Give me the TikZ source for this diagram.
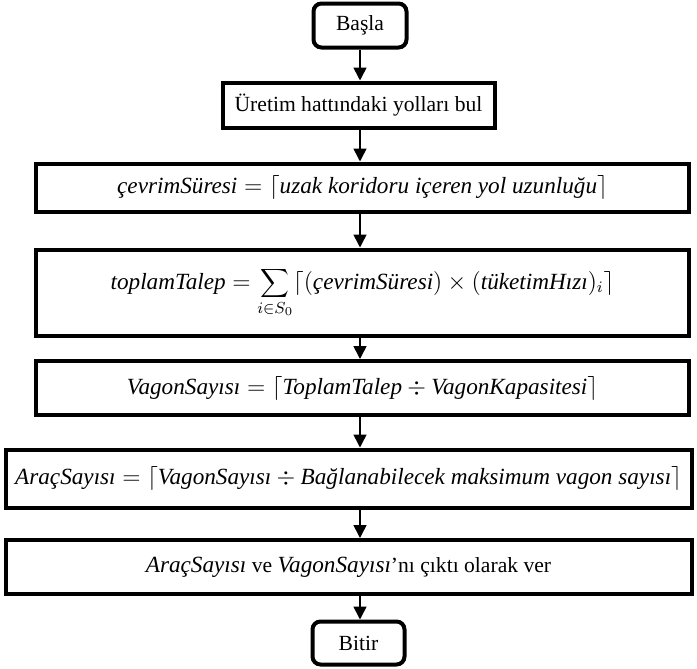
\documentclass[tikz,border=0pt]{standalone}
\usepackage{fontspec}
\setmainfont{Liberation Serif}
\usetikzlibrary{arrows.meta}

\newcommand{\vr}[1]{\mbox{\fontsize{11.6}{14}\selectfont\itshape #1}}

\begin{document}
\begin{tikzpicture}[x=0.5pt,y=-0.5pt,
	box/.style={draw,line width=2pt,inner sep=0pt,align=center,font=\fontsize{10.8}{13}\selectfont},
	mbox/.style={box,font=\fontsize{11.6}{14}\selectfont},
	term/.style={box,rounded corners=4pt},
	arr/.style={line width=0.8pt,-{Triangle[width=6.5pt,length=6.5pt]}}]
		\useasboundingbox (0,0) rectangle (697,669);
		% boxes
		\node[term,minimum width=46.5pt,minimum height=22pt] (basla) at (360,25.5) {Başla};
		\node[box,minimum width=136pt,minimum height=22.5pt] (uretim) at (358.5,105) {Üretim hattındaki yolları bul};
		\node[mbox,minimum width=326.5pt,minimum height=24pt] (cevrim) at (362.5,187.5) {$\vr{çevrimSüresi} = \lceil\vr{uzak koridoru içeren yol uzunluğu}\rceil$};
		\node[mbox,minimum width=326.5pt,minimum height=43pt] (toplam) at (362.5,292.5) {$\vr{toplamTalep} = \displaystyle\sum_{i\in S_0}\bigl\lceil(\vr{çevrimSüresi})\times(\vr{tüketimHızı})_i\bigr\rceil$};
		\node[mbox,minimum width=326.5pt,minimum height=27pt] (vagon) at (362.5,388) {$\vr{VagonSayısı} = \lceil\vr{ToplamTalep}\div\vr{VagonKapasitesi}\rceil$};
		\node[mbox,minimum width=343pt,minimum height=29pt] (arac) at (348.5,478.5) {$\vr{AraçSayısı} = \lceil\vr{VagonSayısı}\div\vr{Bağlanabilecek maksimum vagon sayısı}\rceil$};
		\node[box,minimum width=343pt,minimum height=27pt] (cikti) at (348.5,567) {\vr{AraçSayısı} ve \vr{VagonSayısı}’nı çıktı olarak ver};
		\node[term,minimum width=46pt,minimum height=21.5pt] (bitir) at (358.5,643) {Bitir};
		% arrows
		\draw[arr] (basla.south) -- (uretim.north -| basla);
		\draw[arr] (uretim.south -| basla) -- (cevrim.north -| basla);
		\draw[arr] (cevrim.south -| basla) -- (toplam.north -| basla);
		\draw[arr] (toplam.south -| basla) -- (vagon.north -| basla);
		\draw[arr] (vagon.south -| basla) -- (arac.north -| basla);
		\draw[arr] (arac.south -| basla) -- (cikti.north -| basla);
		\draw[arr] (cikti.south -| basla) -- (bitir.north -| basla);
	\end{tikzpicture}
\end{document}
